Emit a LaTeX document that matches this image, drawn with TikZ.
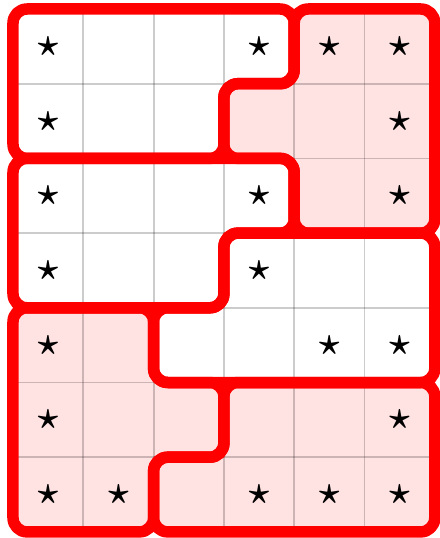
\documentclass[tikz,border=0pt]{standalone}
\usepackage{graphicx}
\definecolor{pinkfill}{RGB}{255,226,226}
\definecolor{regred}{RGB}{255,0,0}
\tikzset{
  region/.style={draw=regred, line width=11.5pt, rounded corners=14pt, line join=round},
  gridline/.style={draw=black, opacity=0.2, line width=1.8pt},
  starnode/.style={inner sep=0pt}
}
\begin{document}
\begin{tikzpicture}[x=70.3pt, y=-74.7pt]
\useasboundingbox (-13pt,9pt) rectangle (426pt,-529pt);
% pink fills
\fill[pinkfill, rounded corners=14pt] (5,0) -- (6,0) -- (6,3) -- (4,3) -- (4,2) -- (3,2) -- (3,1) -- (4,1) -- (4,0) -- cycle;
\fill[pinkfill, rounded corners=14pt] (1,4) -- (2,4) -- (2,5) -- (3,5) -- (3,6) -- (2,6) -- (2,7) -- (0,7) -- (0,4) -- cycle;
\fill[pinkfill, rounded corners=14pt] (4,5) -- (6,5) -- (6,7) -- (2,7) -- (2,6) -- (3,6) -- (3,5) -- cycle;
% grid
\foreach \c in {1,...,5} { \draw[gridline] (\c,0) -- (\c,7); }
\foreach \r in {1,...,6} { \draw[gridline] (0,\r) -- (6,\r); }
% region outlines
\draw[region] (2,0) -- (4,0) -- (4,1) -- (3,1) -- (3,2) -- (0,2) -- (0,0) -- cycle;
\draw[region] (5,0) -- (6,0) -- (6,3) -- (4,3) -- (4,2) -- (3,2) -- (3,1) -- (4,1) -- (4,0) -- cycle;
\draw[region] (2,2) -- (4,2) -- (4,3) -- (3,3) -- (3,4) -- (0,4) -- (0,2) -- cycle;
\draw[region] (4,3) -- (6,3) -- (6,5) -- (2,5) -- (2,4) -- (3,4) -- (3,3) -- cycle;
\draw[region] (1,4) -- (2,4) -- (2,5) -- (3,5) -- (3,6) -- (2,6) -- (2,7) -- (0,7) -- (0,4) -- cycle;
\draw[region] (4,5) -- (6,5) -- (6,7) -- (2,7) -- (2,6) -- (3,6) -- (3,5) -- cycle;
% stars
\foreach \c/\r in {0/0,3/0,4/0,5/0, 0/1,5/1, 0/2,3/2,5/2, 0/3,3/3, 0/4,4/4,5/4, 0/5,5/5, 0/6,1/6,3/6,4/6,5/6} {
  \node[starnode] (s\c\r) at (\c+0.5,\r+0.5) {\scalebox{3.8}{\boldmath$\star$}};
}
\end{tikzpicture}
\end{document}
